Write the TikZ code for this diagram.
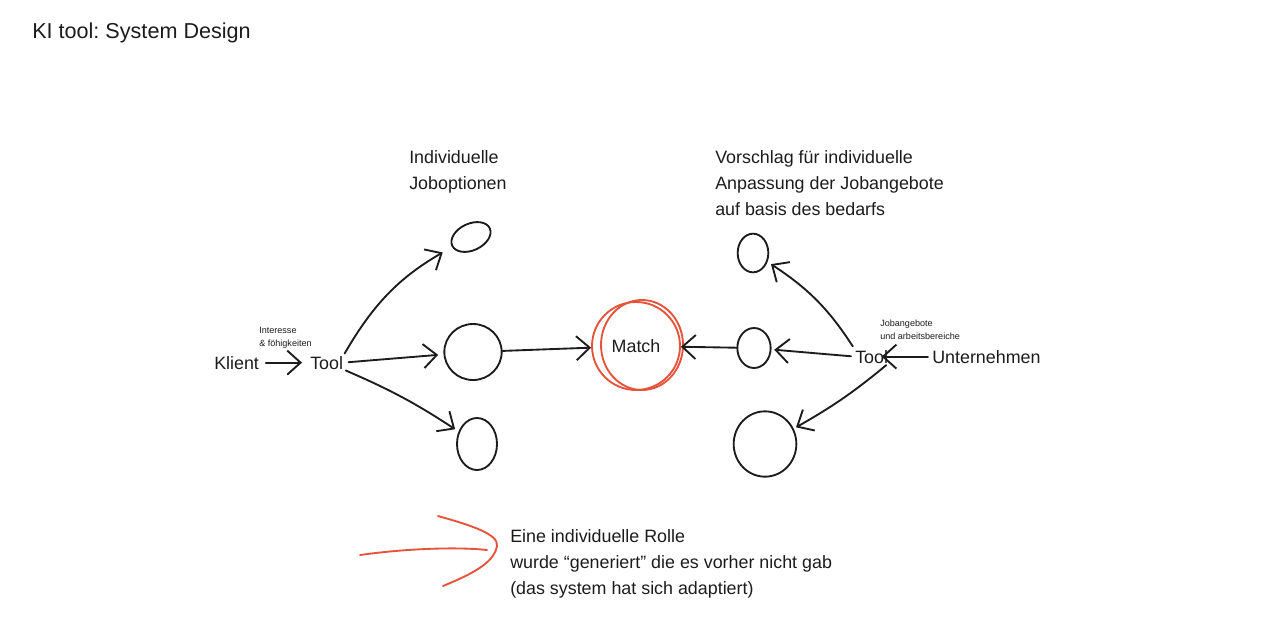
\documentclass[tikz,border=0pt]{standalone}
\usepackage{fontspec}
\setmainfont{Liberation Sans}
\usetikzlibrary{arrows.meta,shapes.geometric}
\definecolor{ink}{HTML}{1C1C1C}
\definecolor{penred}{HTML}{E5533A}
\frenchspacing

\begin{document}
\begin{tikzpicture}[x=0.75pt, y=-0.75pt,
  txt/.style={inner sep=0pt, text=ink, align=left, font=\fontsize{13.4}{19.5}\selectfont},
  small/.style={inner sep=0pt, text=ink, align=left, font=\fontsize{6.8}{9.6}\selectfont},
  blob/.style={draw=ink, ellipse, line width=1.4pt, inner sep=0pt},
  arrow/.style={-{Straight Barb[length=10pt, width=18pt]}, line width=1.4pt, draw=ink, line cap=round},
  redpen/.style={draw=penred, line width=1.4pt, line cap=round}
]
\useasboundingbox (0,0) rectangle (1276,618);

\node[txt, anchor=base west, font=\fontsize{16.2}{19}\selectfont] (title) at (32,38) {KI tool: System Design};

% left side (base = last line)
\node[txt, anchor=base west] (klient) at (214,369) {Klient};
\node[txt, anchor=base west] (tool1) at (310,369) {Tool};
\node[small, anchor=base west] (interesse) at (259,346) {Interesse\\\& föhigkeiten};
\node[txt, anchor=base west] (jobopt) at (409,189) {Individuelle\\Joboptionen};

\node[blob, minimum width=31pt, minimum height=20pt, rotate=25] (j1) at (471,237) {};
\node[blob, minimum width=43pt, minimum height=42pt] (j2) at (473,352) {};
\node[blob, minimum width=30pt, minimum height=39pt] (j3) at (477,444) {};

% middle
\node[circle, draw=penred, line width=1.4pt, minimum size=66pt, inner sep=0pt,
      text=ink, font=\fontsize{13.4}{15}\selectfont] (match) at (636,346) {Match};
\draw[redpen] ([shift={(6,-1)}]match.center) ellipse [x radius=41, y radius=45];

% right side
\node[txt, anchor=base west] (vorschlag) at (715,215) {Vorschlag für individuelle\\Anpassung der Jobangebote\\auf basis des bedarfs};
\node[txt, anchor=base west] (tool2) at (855,363) {Tool};
\node[txt, anchor=base west] (unternehmen) at (932,363) {Unternehmen};
\node[small, anchor=base west] (jobangebote) at (880,339) {Jobangebote\\und arbeitsbereiche};

\node[blob, minimum width=23pt, minimum height=29pt] (v1) at (753,253) {};
\node[blob, minimum width=25pt, minimum height=30pt] (v2) at (754,348) {};
\node[blob, minimum width=47pt, minimum height=49pt] (v3) at (765,444) {};

% connectors
\draw[arrow, shorten <=5pt, shorten >=6pt] (klient) -- (tool1);
\draw[arrow, shorten <=2pt, shorten >=8pt] (tool1.north east) to[bend left=15] (j1);
\draw[arrow, shorten <=4pt, shorten >=4pt] (tool1.east) -- (j2);
\draw[arrow, shorten <=2pt, shorten >=3pt] (tool1.south east) to[bend left=5] (j3);
\draw[arrow] (j2) -- (match);
\draw[arrow] (v2) -- (match);
\draw[arrow, shorten <=3pt, shorten >=3pt] (tool2.north west) to[bend right=12] (v1);
\draw[arrow, shorten <=3pt, shorten >=2pt] (tool2.west) -- (v2);
\draw[arrow, shorten <=2pt, shorten >=2pt] (tool2.south east) to[bend left=5] (v3);
\draw[arrow, shorten <=3pt, shorten >=-5pt] (unternehmen.west) -- (tool2.east);

% note with red arrow
\node[txt, anchor=base west] (note) at (510,594) {Eine individuelle Rolle\\wurde “generiert” die es vorher nicht gab\\(das system hat sich adaptiert)};
\coordinate (rtail) at (360,555);
\coordinate (rtip) at (497,546);
\draw[redpen] (rtail) .. controls (410,548) and (460,547) .. (487,550);
\draw[redpen] (438,516) .. controls (470,525) and (499,534) .. (rtip)
  .. controls (494,563) and (472,574) .. (443,586);
\end{tikzpicture}
\end{document}
